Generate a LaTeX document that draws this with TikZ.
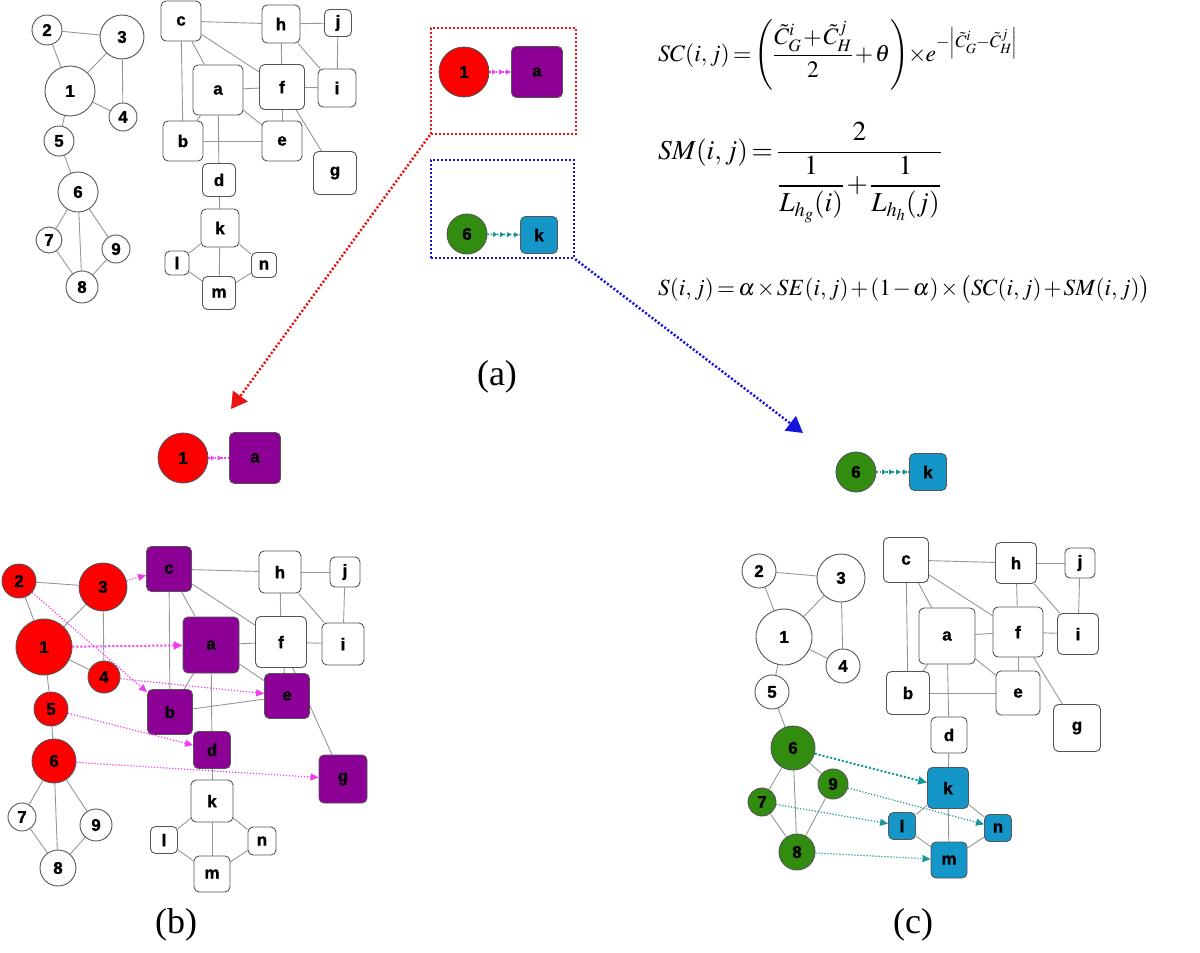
\documentclass[tikz,border=0pt]{standalone}
\usepackage{amsmath}
\usepackage{mathptmx}
\usepackage{graphicx}
\usepackage[no-math]{fontspec}
\setmainfont{Liberation Serif}
\newfontfamily\labfont{Liberation Sans Bold}[FakeBold=1.2]
\usetikzlibrary{arrows.meta,backgrounds,decorations.markings}
\definecolor{bordc}{RGB}{85,85,85}
\definecolor{edgec}{RGB}{150,150,150}
\definecolor{redc}{RGB}{255,0,0}
\definecolor{purc}{RGB}{140,0,150}
\definecolor{grnc}{RGB}{50,140,15}
\definecolor{bluc}{RGB}{20,150,200}
\definecolor{magc}{RGB}{240,60,240}
\definecolor{tealc}{RGB}{25,150,150}
\definecolor{boxred}{RGB}{235,20,20}
\definecolor{boxblue}{RGB}{20,20,220}
\newcommand{\fitto}[2]{\resizebox{#1}{!}{\medmuskip=1.5mu\thickmuskip=2.5mu #2}}
\begin{document}
\begin{tikzpicture}[x=1pt,y=-1pt,
  lab/.style={font=\labfont\fontsize{17}{17}\selectfont},
  cn/.style={circle, draw=bordc, line width=0.9pt, fill=white, minimum size=#1, inner sep=0pt, lab},
  sq/.style={rectangle, rounded corners=5pt, draw=bordc, line width=0.9pt, fill=white, minimum size=#1, inner sep=0pt, lab},
  edge/.style={draw=edgec, line width=0.9pt},
  magarr/.style={magc, line width=1.2pt, dash pattern=on 1.2pt off 1.8pt, -{Triangle[length=8pt,width=7pt]}},
  magthick/.style={magarr, line width=2pt, dash pattern=on 2pt off 2pt, -{Triangle[length=9pt,width=8pt]}},
  tealarr/.style={tealc, line width=1.2pt, dash pattern=on 1.2pt off 1.8pt, -{Triangle[length=8pt,width=7pt]}},
  tealthick/.style={tealarr, line width=2pt, dash pattern=on 2pt off 2pt, -{Triangle[length=9pt,width=8pt]}},
  pairarr/.style={color=#1, line width=1.6pt, dash pattern=on 1.6pt off 1.6pt,
    postaction={decorate, decoration={markings, mark=between positions 0.3 and 0.95 step 7pt with {\arrow{Triangle[length=4pt,width=5pt]}}}}},
  bigbox/.style={draw=#1, line width=2.5pt, dash pattern=on 2pt off 2pt, inner sep=0pt},
  bigarr/.style={draw=#1, line width=2.5pt, dash pattern=on 2pt off 2pt, -{Triangle[length=16pt,width=18pt,fill=#1]}},
  formula/.style={anchor=base west, inner sep=0pt, font=\fontsize{26}{32}\selectfont},
  caption/.style={font=\fontsize{36}{40}\selectfont, inner sep=0pt}
]
\useasboundingbox (0,0) rectangle (1200,953);

% ---------- graph (a) ----------
\node[cn=30] (A2) at (47,30) {2};
\node[cn=44] (A3) at (122,37) {3};
\node[cn=50] (A1) at (70,91) {1};
\node[cn=28] (A4) at (123,117) {4};
\node[cn=30] (A5) at (59,141) {5};
\node[cn=40] (A6) at (78,192) {6};
\node[cn=26] (A7) at (49,240) {7};
\node[cn=28] (A9) at (116,249) {9};
\node[cn=32] (A8) at (82,287) {8};
\node[sq=40] (Ac) at (181,21) {c};
\node[sq=38] (Ah) at (281,24) {h};
\node[sq=27] (Aj) at (338,23) {j};
\node[sq=50] (Aa) at (218,90) {a};
\node[sq=45] (Af) at (282,87) {f};
\node[sq=38] (Ai) at (337,88) {i};
\node[sq=40] (Ab) at (183,141) {b};
\node[sq=40] (Ae) at (282,141) {e};
\node[sq=43] (Ag) at (335,173) {g};
\node[sq=33] (Ad) at (219,180) {d};
\node[sq=38] (Ak) at (220,228) {k};
\node[sq=24] (Al) at (177,263) {l};
\node[sq=25] (An) at (264,265) {n};
\node[sq=33] (Am) at (219,293) {m};

% ---------- graph (b) ----------
\node[cn=34, fill=redc] (B2) at (19,581) {2};
\node[cn=48, fill=redc] (B3) at (103,587) {3};
\node[cn=56, fill=redc] (B1) at (44,647) {1};
\node[cn=32, fill=redc] (B4) at (104,677) {4};
\node[cn=34, fill=redc] (B5) at (51,709) {5};
\node[cn=44, fill=redc] (B6) at (54,761) {6};
\node[cn=28] (B7) at (22,817) {7};
\node[cn=32] (B9) at (96,825) {9};
\node[cn=36] (B8) at (58,868) {8};
\node[sq=45, fill=purc] (Bc) at (169,569) {c};
\node[sq=42] (Bh) at (280,572) {h};
\node[sq=30] (Bj) at (345,572) {j};
\node[sq=56, fill=purc] (Ba) at (211,645) {a};
\node[sq=51] (Bf) at (281,642) {f};
\node[sq=42] (Bi) at (343,644) {i};
\node[sq=45, fill=purc] (Be) at (287,696) {e};
\node[sq=45, fill=purc] (Bb) at (170,712) {b};
\node[sq=37, fill=purc] (Bd) at (212,750) {d};
\node[sq=48, fill=purc] (Bg) at (343,779) {g};
\node[sq=42] (Bk) at (212,801) {k};
\node[sq=27] (Bl) at (164,840) {l};
\node[sq=28] (Bn) at (262,841) {n};
\node[sq=36] (Bm) at (212,874) {m};

% ---------- graph (c) ----------
\node[cn=34] (C2) at (759,571) {2};
\node[cn=48] (C3) at (841,578) {3};
\node[cn=56] (C1) at (784,637) {1};
\node[cn=34] (C4) at (843,666) {4};
\node[cn=34] (C5) at (772,692) {5};
\node[cn=44, fill=grnc] (C6) at (793,748) {6};
\node[cn=30, fill=grnc] (C9) at (833,784) {9};
\node[cn=28, fill=grnc] (C7) at (762,802) {7};
\node[cn=36, fill=grnc] (C8) at (797,852) {8};
\node[sq=45] (Cc) at (906,560) {c};
\node[sq=41] (Ch) at (1016,563) {h};
\node[sq=30] (Cj) at (1080,563) {j};
\node[sq=56] (Ca) at (947,636) {a};
\node[sq=50] (Cf) at (1018,632) {f};
\node[sq=41] (Ci) at (1078,634) {i};
\node[sq=43] (Cb) at (908,693) {b};
\node[sq=44] (Ce) at (1018,693) {e};
\node[sq=47] (Cg) at (1077,728) {g};
\node[sq=36] (Cd) at (949,735) {d};
\node[sq=41, fill=bluc] (Ck) at (948,788) {k};
\node[sq=27, fill=bluc] (Cl) at (902,826) {l};
\node[sq=27, fill=bluc] (Cn) at (998,828) {n};
\node[sq=36, fill=bluc] (Cm) at (949,860) {m};

% ---------- edges ----------
\begin{pgfonlayer}{background}
\foreach \g in {A,B,C}{
  \foreach \u/\v in {2/3,2/1,1/3,3/4,1/4,1/5,5/6,6/7,6/8,6/9,7/8,9/8,
                     c/h,c/b,c/a,c/f,h/j,h/f,h/i,j/i,a/f,f/i,a/b,a/e,a/d,b/e,f/e,f/g,
                     d/k,k/l,k/m,k/n,l/m,n/m}
    \draw[edge] (\g\u) -- (\g\v);
}
\end{pgfonlayer}

% ---------- matching arrows ----------
\draw[magarr] (B3) -- (Bc);
\draw[magthick] (B1) -- (Ba);
\draw[magarr] (B2) -- (Bb);
\draw[magarr] (B4) -- (Be);
\draw[magarr] (B5) -- (Bd);
\draw[magarr] (B6) -- (Bg);
\draw[tealthick] (C6) -- (Ck);
\draw[tealarr] (C9) -- (Cn);
\draw[tealarr] (C7) -- (Cl);
\draw[tealarr] (C8) -- (Cm);

% ---------- pairs in boxes ----------
\node[bigbox=boxred, minimum width=145pt, minimum height=106pt] (redbox) at (503.5,81) {};
\node[bigbox=boxblue, minimum width=143pt, minimum height=98pt] (bluebox) at (502.5,209) {};
\node[cn=50, fill=redc] (P1) at (464,72) {1};
\node[sq=51, fill=purc] (Pa) at (537,72) {a};
\node[cn=40, fill=grnc] (P6) at (467,234) {6};
\node[sq=37, fill=bluc] (Pk) at (539,235) {k};
\draw[pairarr=magc] (P1) -- (Pa);
\draw[pairarr=tealc] (P6) -- (Pk);

\coordinate (redtip) at (231,409);
\coordinate (bluetip) at (803,433);
\draw[bigarr=boxred] (redbox.south west) -- (redtip);
\draw[bigarr=boxblue] (bluebox.south east) -- (bluetip);

% ---------- extracted pairs ----------
\node[cn=50, fill=redc] (Q1) at (183,458) {1};
\node[sq=51, fill=purc] (Qa) at (255,458) {a};
\node[cn=40, fill=grnc] (Q6) at (856,472) {6};
\node[sq=37, fill=bluc] (Qk) at (928,472) {k};
\draw[pairarr=magc] (Q1) -- (Qa);
\draw[pairarr=tealc] (Q6) -- (Qk);

% ---------- formulas ----------
\node[formula] (f1) at (658,61) {\fitto{360pt}{$SC\!\left(i,j\right)=\left(\dfrac{\tilde C_G^i+\tilde C_H^j}{2}+\theta\right)\!\times\! e^{-\left|\tilde C_G^i-\tilde C_H^j\right|}$}};
\node[formula] (f2) at (658,159) {\fitto{284pt}{$SM\!\left(i,j\right)=\dfrac{2}{\dfrac{1}{L_{h_g}\!\left(i\right)}+\dfrac{1}{L_{h_h}\!\left(j\right)}}$}};
\node[formula] (f3) at (658,295) {\fitto{492pt}{$S\!\left(i,j\right)=\alpha\times SE\!\left(i,j\right)+\left(1-\alpha\right)\times\bigl(SC\!\left(i,j\right)+SM\!\left(i,j\right)\bigr)$}};

% ---------- captions ----------
\node[caption] (capa) at (497,377) {(a)};
\node[caption] (capb) at (176,925) {(b)};
\node[caption] (capc) at (913,925) {(c)};
\end{tikzpicture}
\end{document}
